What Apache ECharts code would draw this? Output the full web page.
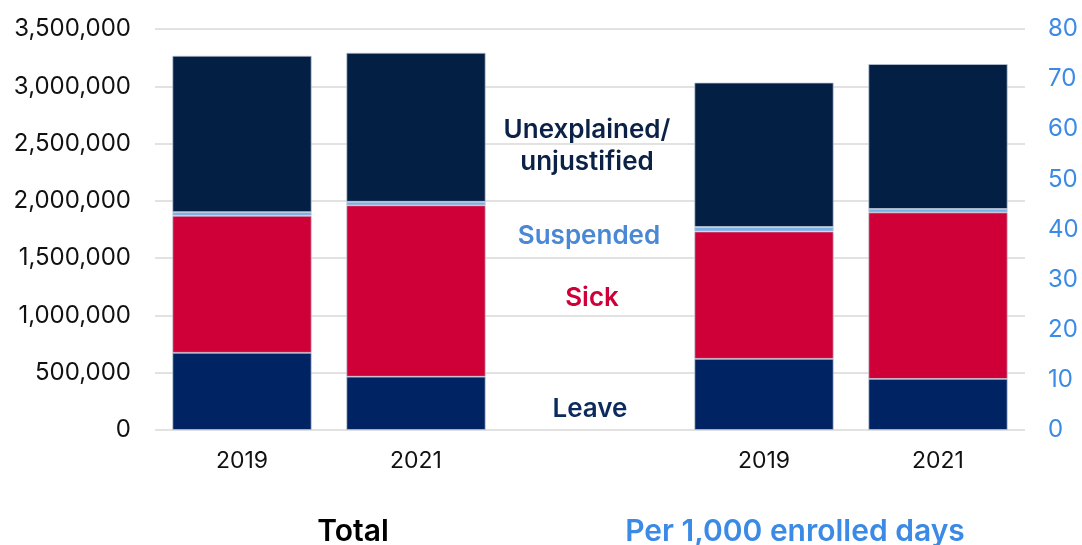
<!DOCTYPE html>
<html>
<head>
<meta charset="utf-8">
<script src="https://cdn.jsdelivr.net/npm/echarts@6/dist/echarts.min.js"></script>
<style>
html,body{margin:0;padding:0;background:#fff;}
#chart{width:1082px;height:545px;}
</style>
</head>
<body>
<div id="chart"></div>
<script>
// Categories (middle slot is the gap holding the series annotations)
const categories = ['2019', '2021', '', '2019', '2021'];

// Total days (left axis)
const totalLeave       = [674000, 465000];
const totalSick        = [1196000, 1496000];
const totalSuspended   = [32000, 31000];
const totalUnexplained = [1364000, 1300000];

// Per 1,000 enrolled days (right axis)
const rateLeave       = [14.2, 10.2];
const rateSick        = [25.4, 33.2];
const rateSuspended   = [0.9, 0.7];
const rateUnexplained = [28.8, 28.9];

const leftTicks = { min: 0, max: 3500000, interval: 500000 };
const rightTicks = { min: 0, max: 80, interval: 10 };

const seriesNames = ['Leave', 'Sick', 'Suspended', 'Unexplained/unjustified'];
const colors = ['#002363', '#cf0037', '#78b0e8', '#041f44'];

const FONT = 'Inter, "Noto Sans", sans-serif';

function leftData(arr) { return [arr[0], arr[1], '-', '-', '-']; }
function rightData(arr) { return ['-', '-', '-', arr[0], arr[1]]; }

const totals = [totalLeave, totalSick, totalSuspended, totalUnexplained];
const rates = [rateLeave, rateSick, rateSuspended, rateUnexplained];

const series = [];
seriesNames.forEach((name, i) => {
  series.push({
    name: name, type: 'bar', stack: 'total', yAxisIndex: 0,
    data: leftData(totals[i]), barWidth: '80%', barGap: '-100%',
    itemStyle: { color: colors[i], borderColor: 'rgba(190,200,215,0.9)', borderWidth: 0.8 }
  });
});
seriesNames.forEach((name, i) => {
  series.push({
    name: name + ' rate', type: 'bar', stack: 'rate', yAxisIndex: 1,
    data: rightData(rates[i]), barWidth: '80%', barGap: '-100%',
    itemStyle: { color: colors[i], borderColor: 'rgba(190,200,215,0.9)', borderWidth: 0.8 }
  });
});

const chart = echarts.init(document.getElementById('chart'), null, { renderer: 'canvas' });
chart.setOption({
  animation: false,
  backgroundColor: '#ffffff',
  grid: { left: 155, right: 57, top: 29, bottom: 115 },
  xAxis: {
    type: 'category', data: categories,
    axisLine: { show: false }, axisTick: { show: false },
    axisLabel: { color: '#111', fontSize: 23, fontFamily: FONT, margin: 20 }
  },
  yAxis: [
    {
      type: 'value', min: leftTicks.min, max: leftTicks.max, interval: leftTicks.interval,
      axisLine: { show: false }, axisTick: { show: false },
      splitLine: { lineStyle: { color: '#d9d9d9', width: 1.5 } },
      axisLabel: {
        color: '#111', fontSize: 24, fontFamily: FONT, margin: 24,
        formatter: v => v.toLocaleString('en-US')
      }
    },
    {
      type: 'value', min: rightTicks.min, max: rightTicks.max, interval: rightTicks.interval,
      axisLine: { show: false }, axisTick: { show: false }, splitLine: { show: false },
      axisLabel: { color: '#3b8ae6', fontSize: 24, fontFamily: FONT, margin: 23 }
    }
  ],
  series: series,
  graphic: [
    { type: 'text', x: 587, y: 146, style: { text: 'Unexplained/\nunjustified', fill: '#0b2246', font: '600 26px ' + FONT, textAlign: 'center', textVerticalAlign: 'middle', lineHeight: 32 } },
    { type: 'text', x: 589, y: 236, style: { text: 'Suspended', fill: '#4a88d6', font: '600 26px ' + FONT, textAlign: 'center', textVerticalAlign: 'middle' } },
    { type: 'text', x: 592, y: 298, style: { text: 'Sick', fill: '#cf0037', font: '600 26px ' + FONT, textAlign: 'center', textVerticalAlign: 'middle' } },
    { type: 'text', x: 590, y: 409, style: { text: 'Leave', fill: '#0d2a5e', font: '600 26px ' + FONT, textAlign: 'center', textVerticalAlign: 'middle' } },
    { type: 'text', x: 353, y: 532, style: { text: 'Total', fill: '#000', font: '600 30px ' + FONT, textAlign: 'center', textVerticalAlign: 'middle' } },
    { type: 'text', x: 795, y: 532, style: { text: 'Per 1,000 enrolled days', fill: '#3b8ae6', font: '600 30px ' + FONT, textAlign: 'center', textVerticalAlign: 'middle' } }
  ]
});
</script>
</body>
</html>
